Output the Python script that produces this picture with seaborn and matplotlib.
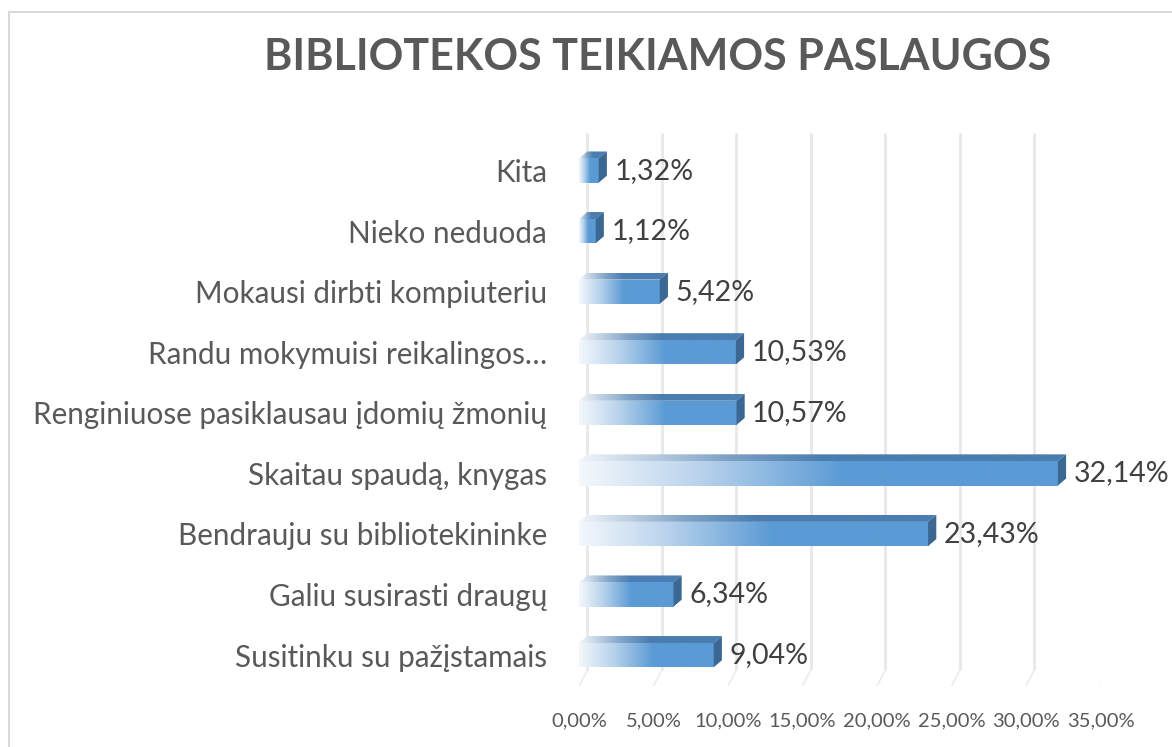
import numpy as np
import pandas as pd
import matplotlib.pyplot as plt
import seaborn as sns
from matplotlib.patches import Polygon, Rectangle
from matplotlib.colors import LinearSegmentedColormap

categories = ['Kita', 'Nieko neduoda', 'Mokausi dirbti kompiuteriu',
              'Randu mokymuisi reikalingos…', 'Renginiuose pasiklausau įdomių žmonių',
              'Skaitau spaudą, knygas', 'Bendrauju su bibliotekininke',
              'Galiu susirasti draugų', 'Susitinku su pažįstamais']
values = [1.32, 1.12, 5.42, 10.53, 10.57, 32.14, 23.43, 6.34, 9.04]
ticks = [0, 5, 10, 15, 20, 25, 30, 35]
title = 'BIBLIOTEKOS TEIKIAMOS PASLAUGOS'

df = pd.DataFrame({'kategorija': categories, 'dalis': values})

sns.set_theme(style='white')
plt.rcParams['font.family'] = ['Lato', 'DejaVu Sans']

front_cmap = LinearSegmentedColormap.from_list(
    'front', [(0, '#f4f8fc'), (0.25, '#b9d3ec'), (0.55, '#5b9bd5'), (1, '#5b9bd5')])
top_cmap = LinearSegmentedColormap.from_list(
    'top', [(0, '#f2f5f9'), (0.3, '#7fa3c7'), (0.5, '#4a7db0'), (1, '#4a7db0')])
side_color = '#3b6793'

fig = plt.figure(figsize=(11.72, 7.47), dpi=100)
ax = fig.add_axes([579 / 1172, 1 - 686 / 747, 521.5 / 1172, (686 - 133) / 747])

sns.barplot(data=df, x='dalis', y='kategorija', orient='h', width=0.4,
            color='#5b9bd5', ax=ax, zorder=3)

dx, dy = 0.55, 0.115
ylo, yhi = 8.51, -0.62
ax.set_xlim(0, 35)
ax.set_ylim(ylo, yhi)

# back wall gridlines with the floor diagonal
for t in ticks:
    ax.plot([t + dx, t + dx], [yhi, 8.25], color='#e8e8e8', lw=2, zorder=1,
            solid_capstyle='butt')
    ax.plot([t + dx, t], [8.25, ylo], color='#ececec', lw=1.2, zorder=1)

grad = np.linspace(0, 1, 256).reshape(1, -1)
for p, v in zip(ax.patches, values):
    x0, y0, w, h = p.get_x(), p.get_y(), p.get_width(), p.get_height()
    p.set_facecolor('none')
    p.set_edgecolor('none')
    im = ax.imshow(grad, cmap=front_cmap, extent=(x0, x0 + w, y0 + h, y0),
                   aspect='auto', zorder=3, interpolation='bilinear')
    im.set_clip_path(p)
    top = Polygon([(x0, y0), (x0 + w, y0), (x0 + w + dx, y0 - dy), (x0 + dx, y0 - dy)],
                  closed=True, facecolor='none', edgecolor='none', zorder=3)
    ax.add_patch(top)
    im2 = ax.imshow(grad, cmap=top_cmap, extent=(x0, x0 + w + dx, y0, y0 - dy),
                    aspect='auto', zorder=3, interpolation='bilinear')
    im2.set_clip_path(top)
    side = Polygon([(x0 + w, y0), (x0 + w + dx, y0 - dy), (x0 + w + dx, y0 + h - dy),
                    (x0 + w, y0 + h)], closed=True, facecolor=side_color,
                   edgecolor='none', zorder=4)
    ax.add_patch(side)
    ax.text(x0 + w + dx + 0.5, y0 + h / 2, f'{v:.2f}%'.replace('.', ','),
            va='center', ha='left', fontsize=20.5, color='#404040', zorder=5,
            clip_on=False)

ax.set_xlim(0, 35)
ax.set_ylim(ylo, yhi)
ax.set_xticks(ticks)
ax.set_xticklabels([f'{t:.2f}%'.replace('.', ',') for t in ticks])
ax.tick_params(axis='x', length=0, pad=19, labelsize=14.5, labelcolor='#595959')
ax.tick_params(axis='y', length=0, pad=23, labelsize=21.3, labelcolor='#595959')
ax.set_xlabel('')
ax.set_ylabel('')
for s in ax.spines.values():
    s.set_visible(False)
ax.patch.set_alpha(0)

fig.text(658 / 1172, 1 - 57 / 747, title, ha='center', va='center',
         fontsize=31, fontweight='bold', color='#595959')

fig.patches.append(Rectangle((9 / 1172, -0.1), 1.2, 1 - 12 / 747 + 0.1,
                             transform=fig.transFigure, fill=False,
                             edgecolor='#d9d9d9', lw=1.5))

fig.savefig('out.png', dpi=100)
